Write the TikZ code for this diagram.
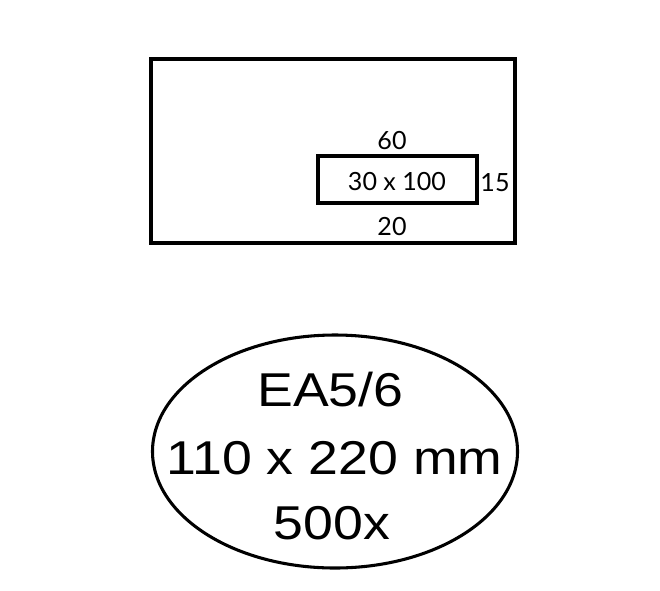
\documentclass[tikz,border=0pt]{standalone}
\usepackage{fontspec}
\usepackage{graphicx}
\setmainfont{Liberation Sans}
\newfontfamily\dimfont{Lato}
\usetikzlibrary{shapes.geometric}
\begin{document}
\begin{tikzpicture}[x=0.75pt,y=-0.75pt,
  outline/.style={draw=black, line width=2.3pt},
  dimlabel/.style={anchor=base, inner sep=0pt, font=\dimfont\fontsize{18.8pt}{20pt}\selectfont},
  biglabel/.style={anchor=base, inner sep=0pt, font=\fontsize{35.6pt}{40pt}\selectfont}]
\useasboundingbox (0,0) rectangle (660,590);
% envelope
\node[outline, rectangle, minimum width=273pt, minimum height=138pt, inner sep=0pt] (env) at (333,151) {};
% window
\node[outline, rectangle, minimum width=119.25pt, minimum height=35.25pt, inner sep=0pt] (win) at (397.5,179.5) {};
\node[dimlabel] (top) at (392,149) {60};
\node[dimlabel] (size) at (397,190) {30 x 100};
\node[dimlabel] (right) at (495,191) {15};
\node[dimlabel] (bottom) at (392,235) {20};
% label ellipse
\node[outline, ellipse, minimum width=273.75pt, minimum height=174.75pt, inner sep=0pt] (oval) at (335,451.5) {};
\node[biglabel] (l1) at (330.5,406) {\scalebox{1.13}[1]{EA5/6}};
\node[biglabel] (l2) at (334.5,474) {\scalebox{1.13}[1]{110 x 220 mm}};
\node[biglabel] (l3) at (332,539) {\scalebox{1.13}[1]{500x}};
\end{tikzpicture}
\end{document}
